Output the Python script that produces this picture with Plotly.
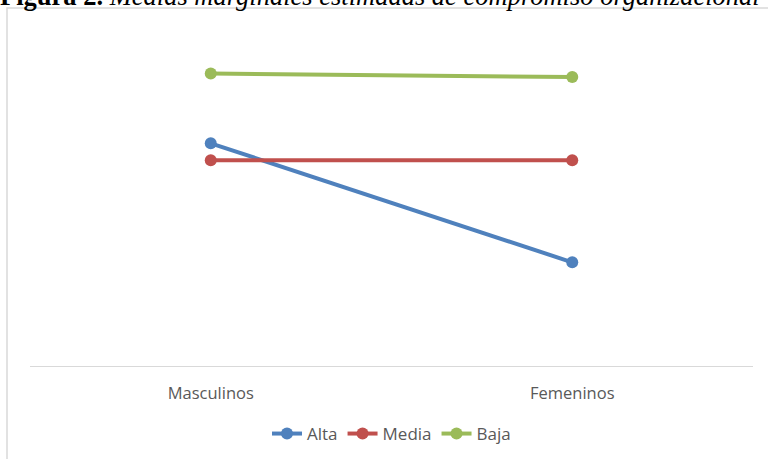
import plotly.graph_objects as go

# Estimated marginal means of organizational commitment by sex and level
categories = ["Masculinos", "Femeninos"]
alta = [3.31, 2.61]
media = [3.21, 3.21]
baja = [3.72, 3.70]

series = [
    ("Alta", alta, "#4f81bd"),
    ("Media", media, "#c0504d"),
    ("Baja", baja, "#9bbb59"),
]

W, H = 768, 459
L, R, T, B = 30, 15, 26, 93
pw, ph = W - L - R, H - T - B


def px_x(p):
    return (p - L) / pw


def px_y(p):
    return (H - B - p) / ph


fig = go.Figure()
for name, vals, color in series:
    fig.add_trace(go.Scatter(
        x=categories, y=vals, name=name, mode="lines+markers",
        line=dict(color=color, width=4),
        marker=dict(color=color, size=12),
        cliponaxis=False,
    ))

fig.update_layout(
    width=W, height=H,
    margin=dict(l=L, r=R, t=T, b=B, autoexpand=False),
    paper_bgcolor="white", plot_bgcolor="white",
    showlegend=True,
    legend=dict(
        orientation="h", x=0.5, xanchor="center",
        y=px_y(434), yanchor="middle",
        font=dict(family="Open Sans", size=17, color="#595959"),
        itemwidth=30,
    ),
    xaxis=dict(
        type="category", range=[-0.5, 1.5],
        showgrid=False, zeroline=False,
        showline=True, linecolor="#d9d9d9", linewidth=1,
        ticks="", ticklabelstandoff=12,
        tickfont=dict(family="Open Sans", size=16.5, color="#595959"),
    ),
    yaxis=dict(
        range=[2.0, 4.0], visible=False,
    ),
    shapes=[dict(
        type="rect", xref="paper", yref="paper",
        x0=px_x(7), x1=px_x(775), y0=px_y(480), y1=px_y(8),
        line=dict(color="#d9d9d9", width=1.5),
        fillcolor="rgba(0,0,0,0)", layer="below",
    )],
    annotations=[dict(
        text="<b>Figura 2.</b> <i>Medias marginales estimadas de compromiso organizacional</i>",
        xref="paper", yref="paper",
        x=px_x(-2), xanchor="left",
        y=px_y(13), yanchor="bottom",
        showarrow=False,
        font=dict(family="Liberation Serif", size=26.5, color="#000000"),
    )],
)

fig.write_html("out.html")
